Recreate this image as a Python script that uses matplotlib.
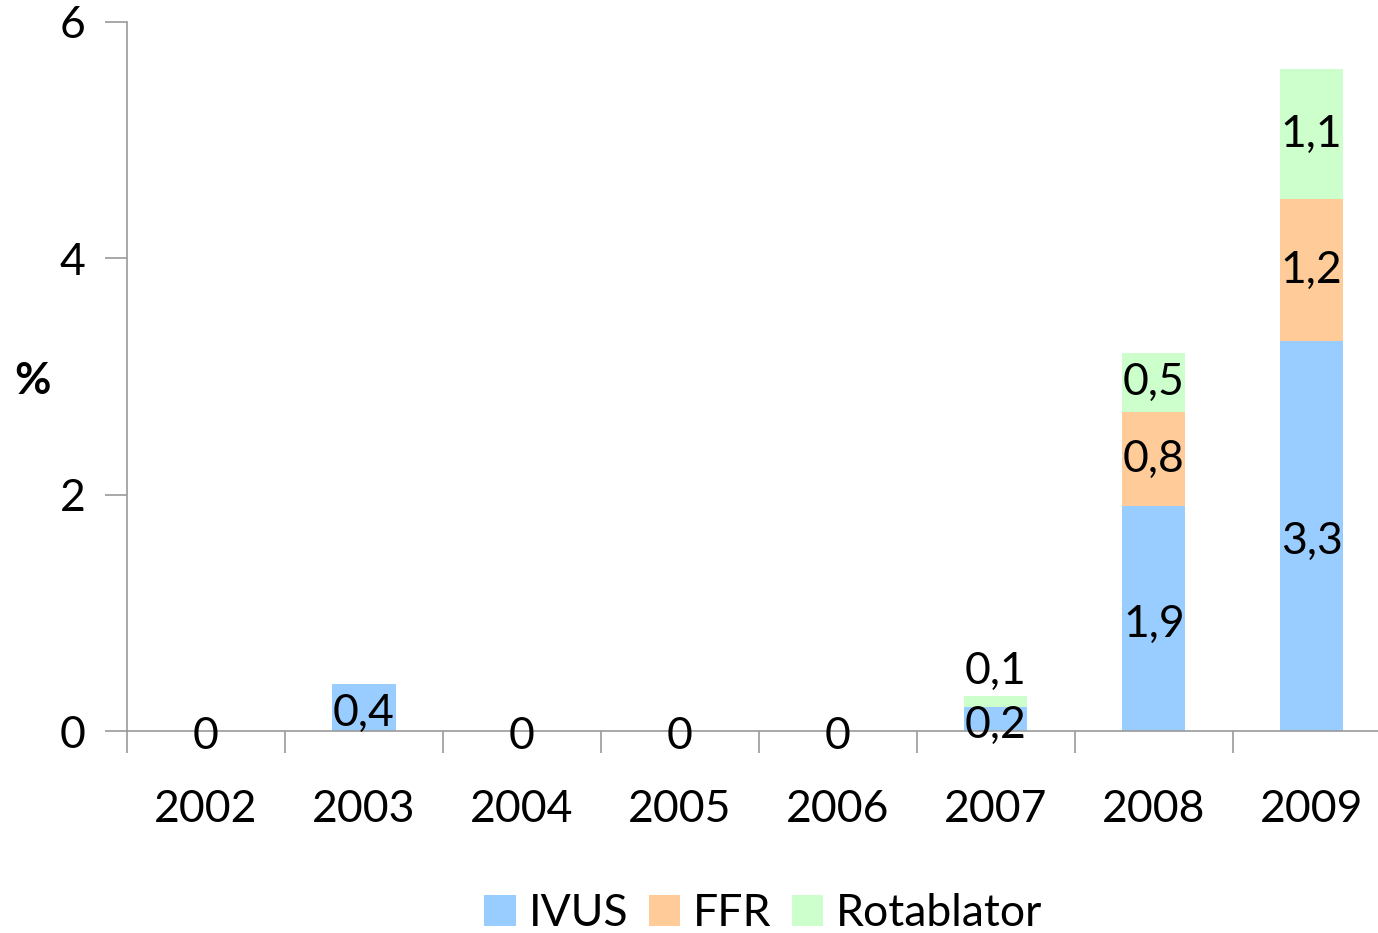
import numpy as np
import matplotlib.pyplot as plt
from matplotlib.patches import Patch

# ------------------- data -------------------
years = ["2002", "2003", "2004", "2005", "2006", "2007", "2008", "2009"]
ivus = [0, 0.4, 0, 0, 0, 0.2, 1.9, 3.3]
ffr = [0, 0, 0, 0, 0, 0, 0.8, 1.2]
rota = [0, 0, 0, 0, 0, 0.1, 0.5, 1.1]
series_names = ["IVUS", "FFR", "Rotablator"]
colors = ["#99CCFF", "#FFCC99", "#CCFFCC"]

FONT = "Lato"
FS = 32
plt.rcParams["font.family"] = [FONT, "DejaVu Sans"]


def fmt(v):
    return f"{v:g}".replace(".", ",")


fig = plt.figure(figsize=(13.78, 9.33), dpi=100)
# axes extend a little past the right edge of the figure, as in the original
ax = fig.add_axes([0.0922, 0.2165, 0.917, 0.76])

x = np.arange(len(years))
w = 0.4
ivus = np.array(ivus)
ffr = np.array(ffr)
rota = np.array(rota)

ax.bar(x, ivus, w, color=colors[0], zorder=2)
ax.bar(x, ffr, w, bottom=ivus, color=colors[1], zorder=2)
ax.bar(x, rota, w, bottom=ivus + ffr, color=colors[2], zorder=2)

# data labels: IVUS always, others only when non-zero
for i in range(len(years)):
    ax.text(x[i], ivus[i] / 2 - 0.05, fmt(ivus[i]), ha="center", va="center",
            fontsize=FS, zorder=3)
    if ffr[i] > 0:
        ax.text(x[i], ivus[i] + ffr[i] / 2, fmt(ffr[i]), ha="center",
                va="center", fontsize=FS, zorder=3)
    if rota[i] > 0:
        base = ivus[i] + ffr[i]
        if rota[i] < 0.3:
            ax.text(x[i], base + rota[i] + 0.03, fmt(rota[i]), ha="center",
                    va="bottom", fontsize=FS, zorder=3)
        else:
            ax.text(x[i], base + rota[i] / 2, fmt(rota[i]), ha="center",
                    va="center", fontsize=FS, zorder=3)

ax.set_xlim(-0.5, 7.5)
ax.set_ylim(0, 6)
ax.set_yticks([0, 2, 4, 6])
ax.set_yticklabels(["0", "2", "4", "6"])

ax.set_xticks(x)
ax.set_xticklabels(years)
ax.set_xticks(np.arange(-0.5, 7.5, 1.0), minor=True)
ax.tick_params(axis="x", which="major", length=0, pad=42, labelsize=FS)
ax.tick_params(axis="x", which="minor", length=16, width=1.2,
               color="#999999", direction="out")
ax.tick_params(axis="y", length=16, width=1.2, color="#999999",
               pad=14, labelsize=FS)

for s in ["top", "right"]:
    ax.spines[s].set_visible(False)
for s in ["left", "bottom"]:
    ax.spines[s].set_color("#999999")
    ax.spines[s].set_linewidth(1.2)

ax.set_ylabel("%", rotation=0, fontsize=FS, fontweight="bold")
ax.yaxis.set_label_coords(-0.075, 0.465)

handles = [Patch(facecolor=c, edgecolor="none") for c in colors]
fig.legend(handles, series_names, loc="center", bbox_to_anchor=(0.554, 0.021),
           ncol=3, frameon=False, fontsize=FS, handlelength=0.7,
           handleheight=0.7, handletextpad=0.3, columnspacing=0.45)

fig.savefig("out.png", dpi=100)
